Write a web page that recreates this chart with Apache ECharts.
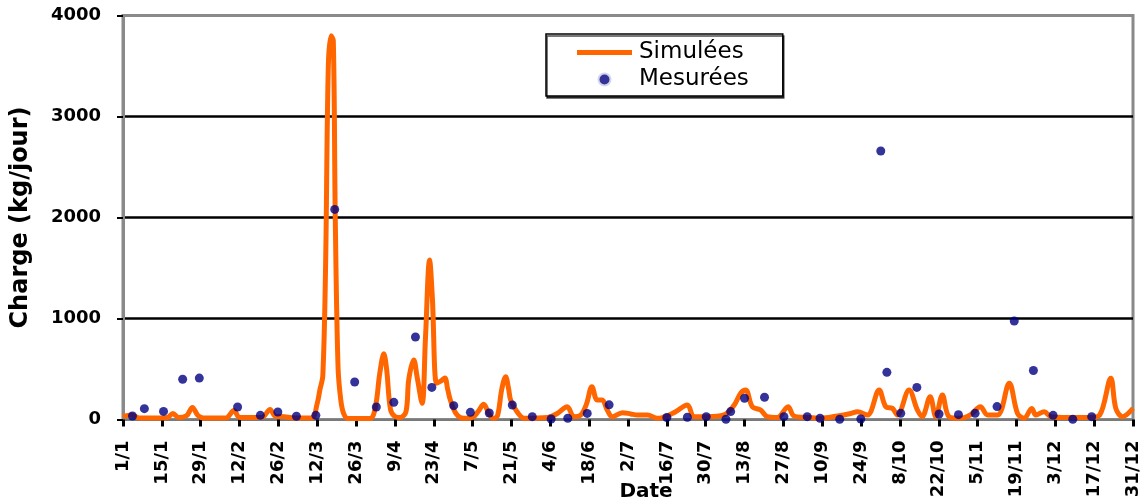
<!DOCTYPE html>
<html>
<head>
<meta charset="utf-8">
<script src="https://cdn.jsdelivr.net/npm/echarts@6/dist/echarts.min.js"></script>
<style>html,body{margin:0;padding:0;background:#fff}#c{width:1146px;height:504px}</style>
</head>
<body>
<div id="c"></div>
<script>
// Tick labels (every 14 days, day 0 = 1/1)
const tickLabels = ['1/1','15/1','29/1','12/2','26/2','12/3','26/3','9/4','23/4','7/5','21/5','4/6','18/6','2/7','16/7','30/7','13/8','27/8','10/9','24/9','8/10','22/10','5/11','19/11','3/12','17/12','31/12'];
const yTicks = [0, 1000, 2000, 3000, 4000];

// Simulées: [day of year, kg/jour]
const simDays = [0,3,6,12,16,18,20,23,25,27,29,37,40,42,50,53,55,57,62,68,70,71,72,73,74,75,75.8,76.5,77.5,78.5,79.5,81,89,91,92.5,94,95,96.4,98,100,102,103,104.8,106,107.8,109,110.5,111.5,113,114.5,116,117,118,120,122.8,126,128,130,132,133.6,135,136.5,137.9,139,139.7,142,144.6,153,156.5,160.1,162.5,165,167,169,170.9,172.7,174.5,176.3,180,183,185.4,189,192.6,198.6,203.4,205.8,210.6,216.6,220.2,222.6,224.4,226.8,229.8,232.2,235.8,239.7,241.8,246.6,251.4,257.5,262.3,264.7,268.3,272.5,274.9,277.3,279.1,283.3,286.3,288,290.9,292.9,295.3,297.7,301.8,305.4,309,311.6,315.2,319.4,322.4,324.8,327.5,329,332,334.4,340,348,352,356,357.8,360.2,364];
const simValues = [30,45,15,15,20,60,20,40,120,40,15,15,90,20,20,100,30,30,15,15,160,300,430,1500,3500,3800,3750,2000,520,190,60,10,10,130,450,650,500,100,30,20,80,400,590,420,160,800,1580,1200,360,380,410,300,190,60,12,20,80,150,50,12,40,300,424,300,193,77,12,20,60,127,28,45,150,325,193,193,94,28,68,55,45,45,12,68,144,28,28,45,140,260,292,127,94,28,20,127,35,20,12,35,60,77,45,292,127,110,45,292,94,28,226,28,243,28,12,45,127,45,45,358,60,12,110,45,77,28,20,20,45,408,110,28,110];

// Mesurées: [day of year, kg/jour]
const mesDays = [3.4,7.7,14.6,21.5,27.5,41.3,49.5,55.8,62.5,69.5,76.3,83.5,91.3,97.6,105.4,111.3,119.2,125.2,132,140.3,147.5,154.3,160.3,167.3,175.2,196,203.4,210.2,217.3,219,224,231.2,238.2,246.6,251.2,258.3,265.9,273.1,275.3,280.3,286.1,294.1,301.1,307.1,315,321.2,328.1,335.2,342.3,349.1];
const mesValues = [35,107,80,398,410,124,41,74,32,41,2080,371,124,170,817,318,137,71,64,144,28,5,12,60,145,20,22,28,2,78,210,220,28,28,12,2,5,2658,467,61,318,54,48,61,128,975,485,41,2,28];

const simData = simDays.map((d, i) => [d, simValues[i]]);
const mesData = mesDays.map((d, i) => [d, mesValues[i]]);

const chart = echarts.init(document.getElementById('c'), null, {renderer: 'canvas'});
chart.setOption({
  animation: false,
  backgroundColor: '#fff',
  grid: {
    left: 123, right: 13, top: 15.5, bottom: 84.5,
    containLabel: false, outerBoundsMode: 'none',
    show: true, borderColor: '#8a8a8a', borderWidth: 3, backgroundColor: 'transparent'
  },
  legend: {
    orient: 'vertical',
    left: 546, top: 34,
    padding: [7, 34, 5, 31],
    itemWidth: 55, itemHeight: 14, itemGap: 4,
    borderColor: '#000', borderWidth: 1.5,
    backgroundColor: '#fff',
    shadowColor: 'rgba(0,0,0,0.7)', shadowOffsetX: 1, shadowOffsetY: 2, shadowBlur: 0,
    textStyle: {fontFamily: 'DejaVu Sans', fontSize: 23, color: '#000', padding: [0,0,0,2]},
    data: [
      {name: 'Simulées', icon: 'path://M0,0 L55,0 L55,5 L0,5 Z'},
      {name: 'Mesurées', icon: 'circle', itemStyle: {color: '#000080', borderColor: '#fff', borderWidth: 4}}
    ]
  },
  xAxis: {
    type: 'value', min: 0, max: 364, interval: 14,
    name: 'Date', nameLocation: 'middle', nameGap: 62, nameMoveOverlap: false,
    nameTextStyle: {fontFamily: 'DejaVu Sans', fontWeight: 'bold', fontSize: 20, color: '#000', padding: [0,0,0,36]},
    axisLine: {show: true, onZero: false, lineStyle: {color: '#7a7a7a', width: 2}},
    axisTick: {show: true, length: 7, lineStyle: {color: '#000', width: 3}},
    splitLine: {show: false},
    axisLabel: {
      rotate: 90, margin: 21, color: '#000',
      fontFamily: 'DejaVu Sans', fontWeight: 'bold', fontSize: 18,
      showMinLabel: true, showMaxLabel: true,
      formatter: v => tickLabels[Math.round(v / 14)] || ''
    }
  },
  yAxis: {
    type: 'value', min: yTicks[0], max: yTicks[yTicks.length - 1], interval: 1000,
    name: 'Charge (kg/jour)', nameLocation: 'middle', nameGap: 90, nameMoveOverlap: false,
    nameTextStyle: {fontFamily: 'DejaVu Sans', fontWeight: 'bold', fontSize: 24, color: '#000'},
    axisLine: {show: true, lineStyle: {color: '#8a8a8a', width: 3}},
    axisTick: {show: true, length: 6, lineStyle: {color: '#000', width: 2}},
    splitLine: {show: true, lineStyle: {color: ['#8a8a8a', '#000', '#000', '#000', '#8a8a8a'], width: 2.5}},
    axisLabel: {
      margin: 22, color: '#000',
      fontFamily: 'DejaVu Sans', fontWeight: 'bold', fontSize: 18,
      formatter: v => String(v)
    }
  },
  series: [
    {
      name: 'Simulées', type: 'line', data: simData,
      symbol: 'none', smooth: 0.35,
      lineStyle: {color: '#FF6600', width: 5},
      itemStyle: {color: '#FF6600'},
      z: 2
    },
    {
      name: 'Mesurées', type: 'scatter', data: mesData,
      symbol: 'circle', symbolSize: 9,
      itemStyle: {color: '#000080'},
      z: 3
    }
  ]
});
</script>
</body>
</html>
